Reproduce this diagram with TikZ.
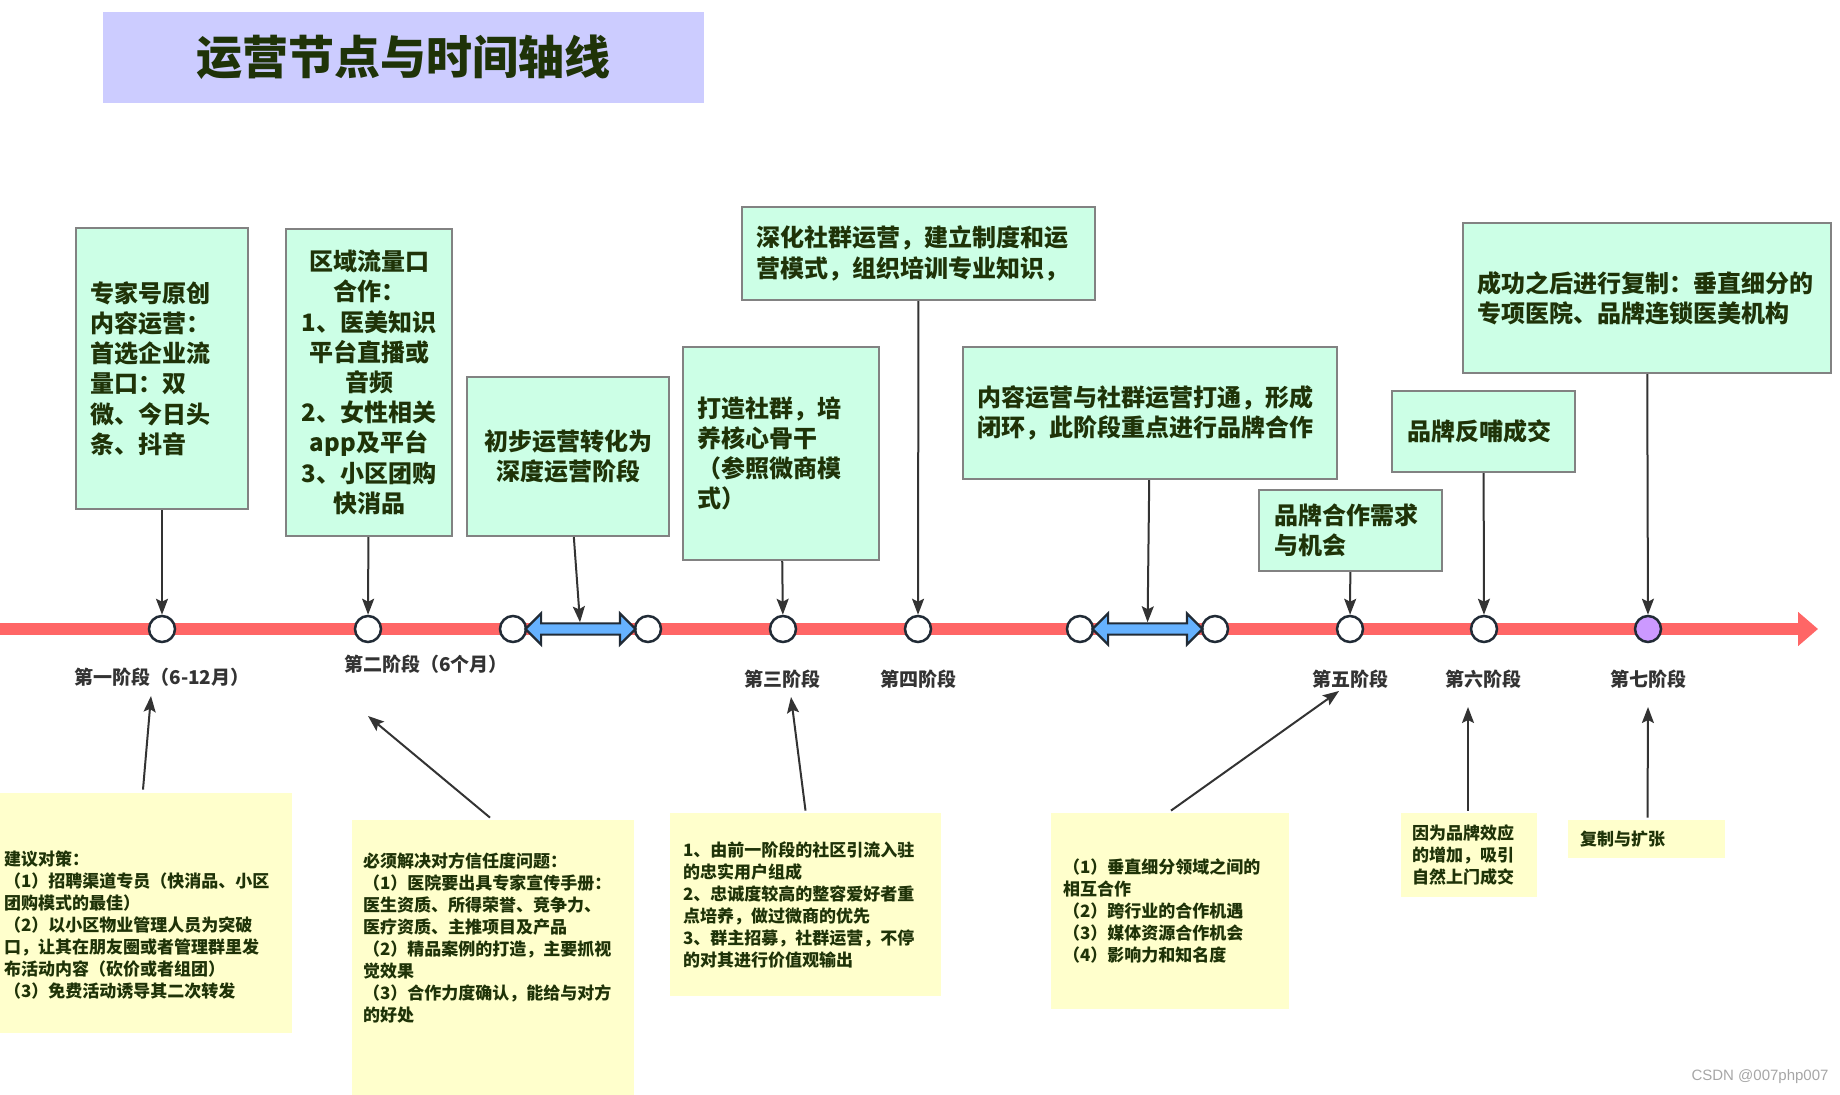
\documentclass[tikz,border=0pt]{standalone}
\usepackage{fontspec}
\setmainfont{Noto Sans CJK SC}
\newfontfamily\markfont{Liberation Sans}
\usepackage{tikz}
\usetikzlibrary{positioning, calc, arrows.meta, shapes.arrows}
\definecolor{titleBlue}{RGB}{204, 204, 255}
\definecolor{mintFill}{RGB}{204, 255, 230}
\definecolor{boxGray}{RGB}{130, 130, 130}
\definecolor{noteYellow}{RGB}{255, 255, 204}
\definecolor{darkText}{RGB}{31, 51, 8}
\definecolor{lineRed}{RGB}{255, 102, 102}
\definecolor{ringDark}{RGB}{33, 43, 54}
\definecolor{arrowBlue}{RGB}{102, 178, 255}
\definecolor{purpleDot}{RGB}{204, 153, 255}
\definecolor{connGray}{RGB}{51, 51, 51}
\tikzset{
  stagebox/.style={rectangle, draw=boxGray, fill=mintFill, line width=1.2pt,
                   inner sep=0pt, text=darkText,
                   font=\fontsize{12pt}{15.1pt}\selectfont\bfseries},
  notebox/.style={rectangle, fill=noteYellow, inner sep=0pt, align=left,
                  text=darkText, font=\fontsize{8.5pt}{11pt}\selectfont\bfseries},
  stagelabel/.style={inner sep=0pt, text=connGray,
                     font=\fontsize{9.5pt}{11pt}\selectfont\bfseries},
  ring/.style={circle, draw=ringDark, fill=white, line width=1.25pt,
               minimum size=13pt, inner sep=0pt},
  spanarrow/.style={double arrow, draw=ringDark, fill=arrowBlue, line width=1.1pt,
                    inner xsep=0pt, inner ysep=2.25pt, double arrow head extend=5pt,
                    double arrow tip angle=90, minimum height=55pt},
}

\begin{document}
\begin{tikzpicture}[
    x=0.5pt, y=-0.5pt,
    arrow/.style={-{Stealth[length=8pt, width=6pt, inset=1.5pt]}, line width=1pt, draw=connGray},
  ]
    \useasboundingbox (0,0) rectangle (1840,1095);

    % title
    \node[fill=titleBlue, minimum width=300.5pt, minimum height=45.5pt, text=darkText,
          font=\fontsize{23pt}{28pt}\selectfont\bfseries] (title) at (403.5,57.5) {运营节点与时间轴线};

    % timeline
    \coordinate (tlstart) at (0,629);
    \coordinate (tlend) at (1818,629);
    \draw[lineRed, line width=5.5pt, -{Triangle[length=10pt, width=16.5pt]}] (tlstart) -- (tlend);

    \foreach \n/\x in {1/162, 2/368, 3/513, 4/648, 5/783, 6/918, 7/1080, 8/1215, 9/1350, 10/1484}
      \node[ring] (c\n) at (\x,629) {};
    \node[ring, fill=purpleDot] (c11) at (1648,629) {};

    \node[spanarrow] (da1) at ($(c3)!0.5!(c4)$) {};
    \node[spanarrow] (da2) at ($(c7)!0.5!(c8)$) {};

    % stage boxes
    \node[stagebox, minimum width=86pt, minimum height=140.5pt, text width=72pt, align=left]
         (b1) at (162,368.5) {专家号原创\\内容运营：\\首选企业流\\量口：双\\微、今日头\\条、抖音};
    \node[stagebox, minimum width=83pt, minimum height=153.5pt, align=center]
         (b2) at (369,382.5) {区域流量口\\合作：\\1、医美知识\\平台直播或\\音频\\2、女性相关\\app及平台\\3、小区团购\\快消品};
    \node[stagebox, minimum width=101pt, minimum height=79.5pt, align=center]
         (b3) at (568,456.5) {初步运营转化为\\深度运营阶段};
    \node[stagebox, minimum width=98pt, minimum height=106.5pt, text width=84pt, align=left]
         (b4) at (781,453.5) {打造社群，培\\养核心骨干\\（参照微商模\\式）};
    \node[stagebox, minimum width=176.5pt, minimum height=46.5pt, text width=162.5pt, align=left]
         (b5) at (918.5,253.5) {深化社群运营，建立制度和运\\营模式，组织培训专业知识，};
    \node[stagebox, minimum width=187pt, minimum height=66pt, text width=173pt, align=left]
         (b6) at (1150,413) {内容运营与社群运营打通，形成\\闭环，此阶段重点进行品牌合作};
    \node[stagebox, minimum width=91.5pt, minimum height=40.5pt, text width=76.5pt, align=left]
         (b7) at (1350.5,530.5) {品牌合作需求\\与机会};
    \node[stagebox, minimum width=91.5pt, minimum height=40.5pt, text width=76.5pt, align=left]
         (b8) at (1483.5,431.5) {品牌反哺成交};
    \node[stagebox, minimum width=184pt, minimum height=75pt, text width=170pt, align=left]
         (b9) at (1647,298) {成功之后进行复制：垂直细分的\\专项医院、品牌连锁医美机构};

    \draw[arrow] (b1) -- (c1);
    \draw[arrow] (b2) -- (c2);
    \draw[arrow] (b3) -- (da1);
    \draw[arrow] (b4) -- (c5);
    \draw[arrow] (b5) -- (c6);
    \draw[arrow] (b6) -- (da2);
    \draw[arrow] (b7) -- (c9);
    \draw[arrow] (b8) -- (c10);
    \draw[arrow] (b9) -- (c11);

    % stage names
    \node[stagelabel] (s1) at (162,677) {第一阶段（6-12月）};
    \node[stagelabel] (s2) at (426,664) {第二阶段（6个月）};
    \node[stagelabel] (s3) at (782,679) {第三阶段};
    \node[stagelabel] (s4) at (918,679) {第四阶段};
    \node[stagelabel] (s5) at (1350,679) {第五阶段};
    \node[stagelabel] (s6) at (1483,679) {第六阶段};
    \node[stagelabel] (s7) at (1648,679) {第七阶段};

    % notes
    \node[notebox, minimum width=146pt, minimum height=120pt, text width=142pt]
         (n1) at (146,913) {\rule{0pt}{19pt}建议对策：\\（1）招聘渠道专员（快消品、小区\\团购模式的最佳）\\（2）以小区物业管理人员为突破\\口，让其在朋友圈或者管理群里发\\布活动内容（砍价或者组团）\\（3）免费活动诱导其二次转发};
    \node[notebox, minimum width=141pt, minimum height=137.5pt, text width=130pt]
         (n2) at (493,957.5) {必须解决对方信任度问题：\\（1）医院要出具专家宣传手册：\\医生资质、所得荣誉、竞争力、\\医疗资质、主推项目及产品\\（2）精品案例的打造，主要抓视\\觉效果\\（3）合作力度确认，能给与对方\\的好处\\\rule{0pt}{19pt}};
    \node[notebox, minimum width=135.5pt, minimum height=91.5pt, text width=122.5pt]
         (n3) at (805.5,904.5) {1、由前一阶段的社区引流入驻\\的忠实用户组成\\2、忠诚度较高的整容爱好者重\\点培养，做过微商的优先\\3、群主招募，社群运营，不停\\的对其进行价值观输出};
    \node[notebox, minimum width=119pt, minimum height=98pt, text width=107pt]
         (n4) at (1170,911) {（1）垂直细分领域之间的\\相互合作\\（2）跨行业的合作机遇\\（3）媒体资源合作机会\\（4）影响力和知名度};
    \node[notebox, minimum width=68pt, minimum height=42pt, text width=57pt]
         (n5) at (1469,855) {因为品牌效应\\的增加，吸引\\自然上门成交};
    \node[notebox, minimum width=78.5pt, minimum height=19pt, text width=66.5pt]
         (n6) at (1646.5,839) {复制与扩张};

    \draw[arrow] ($(n1.north)+(-3,-3)$) -- ($(s1.center)+(-11,19)$);
    \draw[arrow] ($(n2.north)+(-3,-2)$) -- ($(s2.center)+(-58,52)$);
    \draw[arrow] ($(n3.north)+(0,-2)$) -- ($(s3.center)+(9,18)$);
    \draw[arrow] ($(n4.north)+(1,-2)$) -- ($(s5.center)+(-11,12)$);
    \draw[arrow] ($(n5.north)+(-1,-2)$) -- ($(s6.center)+(-15,28)$);
    \draw[arrow] ($(n6.north)+(1,-2)$) -- ($(s7.center)+(0,28)$);

    \node[text=black!35, font=\markfont\fontsize{7.5pt}{9pt}\selectfont] (mark) at (1760,1077) {CSDN @007php007};
  \end{tikzpicture}
\end{document}
